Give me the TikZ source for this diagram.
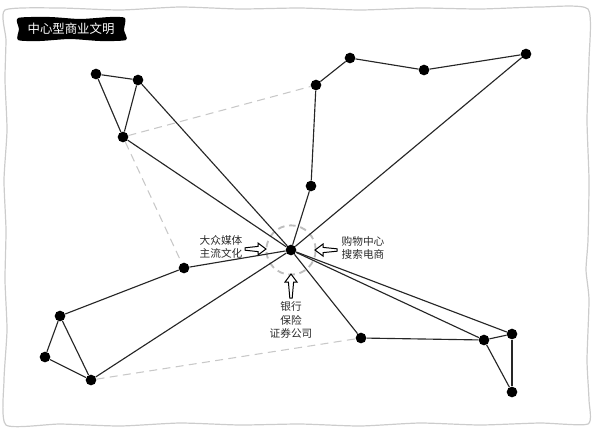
\documentclass[tikz,border=0pt]{standalone}
\usepackage{fontspec}
\setmainfont{Noto Sans CJK SC}
\definecolor{framegray}{HTML}{CCCCCC}
\definecolor{dashgray}{HTML}{C8C8C8}
\definecolor{ringgray}{HTML}{BDBDBD}
\definecolor{txt}{HTML}{2A2A2A}
\tikzset{
  dot/.style={circle, fill=black, inner sep=0pt, minimum size=8pt},
  edge/.style={draw=black!85, line width=0.85pt},
  dashlink/.style={draw=dashgray, line width=0.8pt, dash pattern=on 6pt off 4pt},
  ring/.style={circle, draw=ringgray, line width=1.4pt, dash pattern=on 5pt off 3.5pt, minimum size=37pt, inner sep=0pt},
  lbl/.style={align=center, text=txt, font=\fontsize{8}{10}\selectfont, inner sep=0pt},
  hollow/.style={draw=black, fill=white, line width=0.75pt, line join=miter}
}
\begin{document}
\begin{tikzpicture}[x=0.75pt,y=-0.75pt]
\useasboundingbox (0,0) rectangle (605,440);
% frame
\draw[framegray, line width=0.9pt] plot[smooth cycle, tension=0.35] coordinates {
 (5,10) (60,8) (120,10) (180,7) (240,9) (300,8) (360,10) (420,8) (480,9) (540,7) (588,9)
 (589,60) (587,120) (589,180) (588,240) (586,270) (589,300) (587,360) (589,400) (588,424)
 (540,423) (480,425) (420,423) (360,426) (300,424) (240,425) (180,423) (120,426) (60,424) (6,425)
 (4,380) (7,330) (5,280) (6,230) (4,180) (7,130) (5,80) (6,40)};
% title
\fill[black] plot[smooth cycle, tension=0.4] coordinates {(18,18) (50,17) (80,19) (110,17) (125,18) (124,30) (126,40) (100,41) (70,39) (40,41) (18,40) (19,29)};
\node[text=white, font=\fontsize{9.3}{11}\selectfont, inner sep=0pt] (title) at (71,29) {中心型商业文明};
% nodes
\node[dot] (C) at (291,250) {};
\node[dot] (A1) at (96,74) {};
\node[dot] (A2) at (138,80) {};
\node[dot] (A3) at (123,137) {};
\node[dot] (B1) at (316,85) {};
\node[dot] (B2) at (350,58) {};
\node[dot] (B3) at (424,70) {};
\node[dot] (B4) at (526,54) {};
\node[dot] (B5) at (311,186) {};
\node[dot] (D1) at (184,268) {};
\node[dot] (D2) at (60,316) {};
\node[dot] (D3) at (45,357) {};
\node[dot] (D4) at (91,380) {};
\node[dot] (E1) at (361,338) {};
\node[dot] (E2) at (484,340) {};
\node[dot] (E3) at (512,334) {};
\node[dot] (E4) at (512,392) {};
\node[ring] (R) at (C) {};
% dashed links
\draw[dashlink] (A3) -- (B1);
\draw[dashlink] (A3) -- (D1);
\draw[dashlink] (D4) -- (E1);
% edges
\draw[edge] (A1) -- (A2);
\draw[edge] (A2) -- (A3);
\draw[edge] (A1) -- (A3);
\draw[edge] (A2) -- (C);
\draw[edge] (A3) -- (C);
\draw[edge] (B1) -- (B2);
\draw[edge] (B2) -- (B3);
\draw[edge] (B3) -- (B4);
\draw[edge] (B1) -- (B5);
\draw[edge] (B5) -- (C);
\draw[edge] (B4) -- (C);
\draw[edge] (D1) -- (C);
\draw[edge] (D1) -- (D2);
\draw[edge] (D2) -- (D3);
\draw[edge] (D3) -- (D4);
\draw[edge] (D2) -- (D4);
\draw[edge] (D4) -- (C);
\draw[edge] (E1) -- (C);
\draw[edge] (E1) -- (E2);
\draw[edge] (E2) -- (E3);
\draw[edge] (E2) -- (E4);
\draw[edge] (E3) -- (E4);
\draw[edge] (E2) -- (C);
\draw[edge] (E3) -- (C);
% labels
\node[lbl] (tl) at (221,247) {大众媒体\\主流文化};
\node[lbl] (tr) at (363,248) {购物中心\\搜索电商};
\node[lbl, font=\fontsize{8}{10.2}\selectfont] (tb) at (291,320) {银行\\保险\\证券公司};
% hollow arrows (tip at origin, pointing along +x)
\draw[hollow, shift={(266,249)}] (0,0) -- (-8,-6) -- (-8,-2.6) -- (-21,-1.2) -- (-21,1.2) -- (-8,2.6) -- (-8,6) -- cycle;
\draw[hollow, shift={(315,250)}, rotate=180] (0,0) -- (-8,-6) -- (-8,-2.6) -- (-22,-1.2) -- (-22,1.2) -- (-8,2.6) -- (-8,6) -- cycle;
\draw[hollow, shift={(291,274)}, rotate=90] (0,0) -- (-8,-6) -- (-8,-2.6) -- (-24,-1.2) -- (-24,1.2) -- (-8,2.6) -- (-8,6) -- cycle;
\end{tikzpicture}
\end{document}
